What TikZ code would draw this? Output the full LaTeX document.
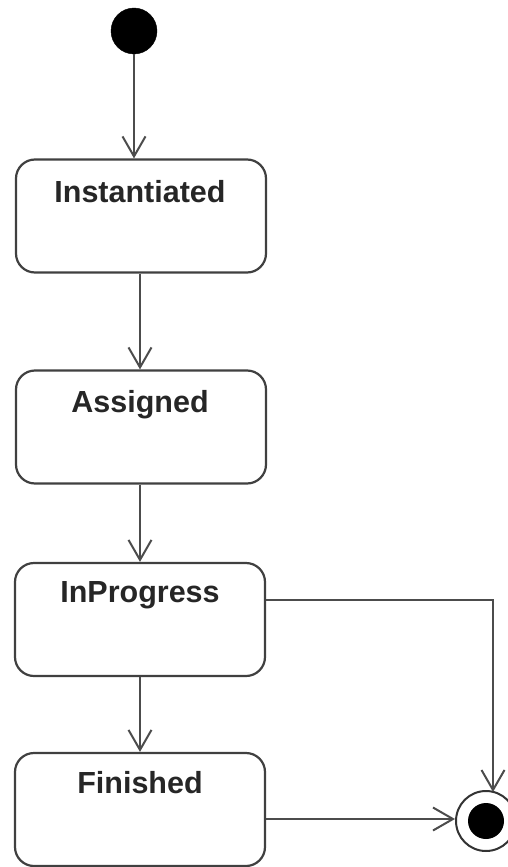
\documentclass[tikz,border=0pt]{standalone}
\usepackage{fontspec}
\setmainfont{Liberation Sans}
\usetikzlibrary{arrows.meta}
\begin{document}
\begin{tikzpicture}[x=1pt,y=-1pt,
  statebox/.style={draw=black!75, line width=2.2pt, rounded corners=19pt, minimum width=250pt, minimum height=113pt, inner sep=0pt, fill=white},
  statelabel/.style={anchor=base, font=\fontsize{30.5}{36}\selectfont\bfseries, text=black!85, inner sep=0pt},
  conn/.style={draw=black!70, line width=2pt, -{Straight Barb[length=20pt,width=23pt,line width=2pt]}},
]
\useasboundingbox (0,0) rectangle (508,867);
\clip (0,0) rectangle (508,867);
% initial state
\node[circle, fill=black, draw=black, minimum size=46pt, inner sep=0pt] (init) at (134,31) {};
% states
\node[statebox] (inst) at (141,216) {};
\node[statelabel] (instl) at (140,202) {Instantiated};
\node[statebox] (assg) at (141,427) {};
\node[statelabel] (assgl) at (140,412) {Assigned};
\node[statebox] (inpr) at (140,619.5) {};
\node[statelabel] (inprl) at (140,602) {InProgress};
\node[statebox] (fini) at (140,809.5) {};
\node[statelabel] (finil) at (140,793) {Finished};
% final state
\node[circle, draw=black!80, line width=2pt, minimum size=60pt, inner sep=0pt, fill=white] (final) at (486,821) {};
\node[circle, fill=black, minimum size=36pt, inner sep=0pt] (finaldot) at (486,821) {};
% connector helper coordinates
\coordinate (c1) at (134,0);
\coordinate (c2) at (140,0);
\coordinate (c3) at (493,600);
\coordinate (c4) at (0,819);
\coordinate (c5) at (493,792);
% connectors
\draw[conn] (init.south) -- (c1 |- inst.north);
\draw[conn] (c2 |- inst.south) -- (c2 |- assg.north);
\draw[conn] (c2 |- assg.south) -- (c2 |- inpr.north);
\draw[conn] (c2 |- inpr.south) -- (c2 |- fini.north);
\draw[conn] (inpr.east |- c3) -- (c3) -- (c5);
\draw[conn] (fini.east |- c4) -- (final.west |- c4);
\end{tikzpicture}
\end{document}
